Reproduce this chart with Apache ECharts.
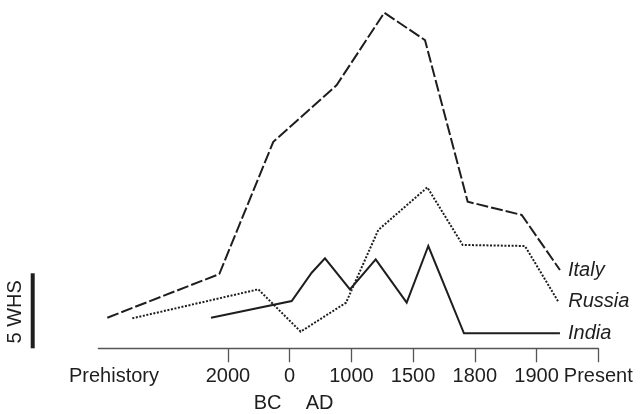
<!DOCTYPE html>
<html>
<head>
<meta charset="utf-8">
<script src="https://cdn.jsdelivr.net/npm/echarts@6/dist/echarts.min.js"></script>
<style>
html,body{margin:0;padding:0;background:#fff;}
#chart{width:642px;height:414px;}
</style>
</head>
<body>
<div id="chart"></div>
<script>
// Positions along the (non-linear) period axis: 2000 BC = 2, 0 = 3, 1000 = 4, 1500 = 5, 1800 = 6, 1900 = 7, Present = 8
const tickPositions = [2, 3, 4, 5, 6, 7, 8];
const labelPositions = [0.154, 2, 3, 4, 5, 6, 7, 8];
const tickLabels = ['Prehistory', '2000', '0', '1000', '1500', '1800', '1900', 'Present'];

const italyX = [0.046, 1.86, 2.735, 3.762, 4.533, 5.192, 5.884, 6.759, 7.379];
const italyY = [2.04, 4.95, 13.77, 17.55, 22.37, 20.55, 9.77, 8.89, 5.22];

const russiaX = [0.451, 2.492, 3.179, 3.913, 4.436, 5.23, 5.803, 6.812, 7.352];
const russiaY = [2.0, 3.93, 1.11, 3.04, 7.89, 10.73, 6.89, 6.82, 3.11];

const indiaX = [1.726, 3.033, 3.357, 3.572, 3.977, 4.394, 4.896, 5.246, 5.824, 7.379];
const indiaY = [2.04, 3.15, 5.04, 6.0, 3.93, 5.93, 3.04, 6.82, 1.0, 1.0];

const scaleBarValue = 5;
const scaleBarLabel = '5 WHS';

function pairs(xs, ys) { return xs.map((x, i) => [x, ys[i]]); }

const ink = '#1e1e1e';
const font = 'Liberation Sans';

const chart = echarts.init(document.getElementById('chart'));

function mkSeries(name, xs, ys, dash, dist) {
  return {
    name: name,
    type: 'line',
    data: pairs(xs, ys),
    symbol: 'none',
    silent: true,
    lineStyle: { color: ink, width: 2, type: dash, cap: 'butt', join: 'miter' },
    endLabel: {
      show: true,
      formatter: name,
      distance: dist,
      color: ink,
      fontFamily: font,
      fontStyle: 'italic',
      fontSize: 20
    }
  };
}

chart.setOption({
  animation: false,
  grid: { left: 98.3, right: 43.7, top: 3.3, bottom: 65.7, containLabel: false },
  xAxis: {
    type: 'value',
    min: -0.1,
    max: 8,
    splitLine: { show: false },
    axisLine: { show: true, lineStyle: { color: '#555', width: 1.3 } },
    axisTick: { show: true, customValues: tickPositions, length: 14, lineStyle: { color: '#555', width: 1.3 } },
    axisLabel: {
      show: true,
      customValues: labelPositions,
      margin: 18,
      color: ink,
      fontFamily: font,
      fontSize: 20,
      formatter: function (v) {
        let best = 0, d = 1e9;
        labelPositions.forEach((p, i) => { if (Math.abs(p - v) < d) { d = Math.abs(p - v); best = i; } });
        return tickLabels[best];
      }
    }
  },
  yAxis: {
    type: 'value',
    min: 0,
    max: 23,
    show: false
  },
  series: [
    mkSeries('Italy', italyX, italyY, [12, 3], 8),
    mkSeries('Russia', russiaX, russiaY, [2, 1.6], 10),
    mkSeries('India', indiaX, indiaY, 'solid', 8)
  ]
});

// scale bar tied to the y scale
const y0 = chart.convertToPixel({ yAxisIndex: 0 }, 0);
const y5 = chart.convertToPixel({ yAxisIndex: 0 }, scaleBarValue);
const x0 = chart.convertToPixel({ xAxisIndex: 0 }, 3);

chart.setOption({
  graphic: [
    { type: 'rect', shape: { x: 30.7, y: y5, width: 4, height: y0 - y5 }, style: { fill: ink }, silent: true },
    { type: 'text', x: 15, y: (y0 + y5) / 2 + 1, rotation: Math.PI / 2,
      style: { text: scaleBarLabel, fill: ink, font: '20px "Liberation Sans"', align: 'center', verticalAlign: 'middle' }, silent: true },
    { type: 'text', x: x0 - 22, y: 403,
      style: { text: 'BC', fill: ink, font: '20px "Liberation Sans"', align: 'center', verticalAlign: 'middle' }, silent: true },
    { type: 'text', x: x0 + 30, y: 403,
      style: { text: 'AD', fill: ink, font: '20px "Liberation Sans"', align: 'center', verticalAlign: 'middle' }, silent: true }
  ]
});
</script>
</body>
</html>
